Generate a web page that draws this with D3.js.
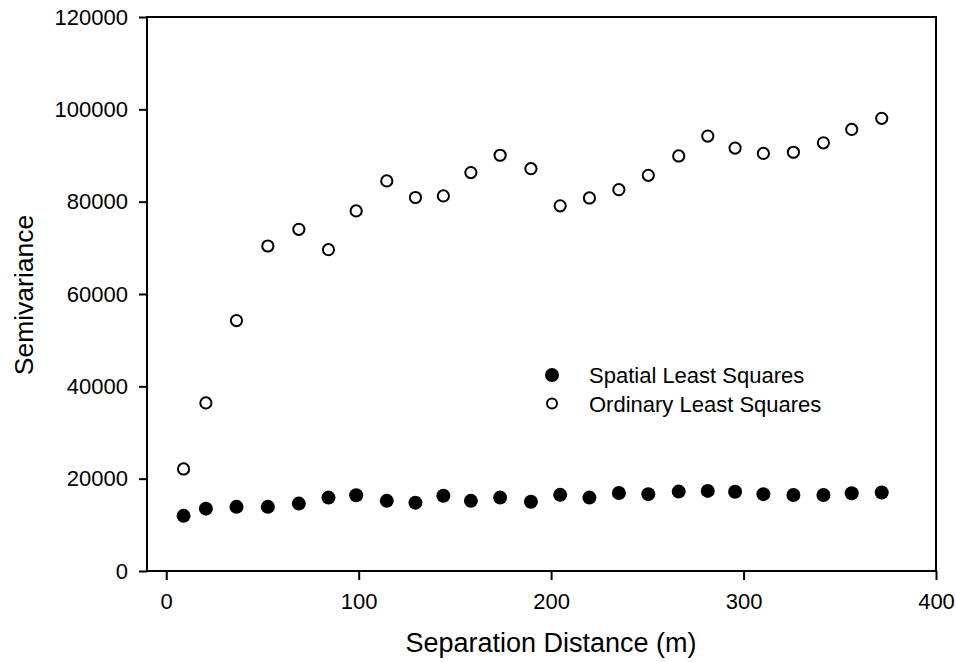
<!DOCTYPE html>
<html>
<head>
<meta charset="utf-8">
<script src="https://cdn.jsdelivr.net/npm/d3@7"></script>
<style>
  body { margin: 0; background: #fff; }
  text { font-family: "Liberation Sans", Arial, sans-serif; fill: #000; }
</style>
</head>
<body>
<div id="chart"></div>
<script>
// separation distance (m) for each lag
const distance = [9.0, 20.6, 36.5, 52.8, 68.9, 84.3, 98.7, 114.6, 129.5, 144.0, 158.3, 173.5, 189.5,
  204.7, 219.9, 235.2, 250.5, 266.3, 281.4, 295.6, 310.3, 325.9, 341.5, 356.2, 371.8];
// semivariance, spatial least squares (filled)
const spatial = [11950, 13500, 13900, 13900, 14600, 15900, 16400, 15200, 14800, 16300, 15200, 15900, 15000,
  16500, 15900, 16900, 16650, 17200, 17350, 17150, 16650, 16450, 16450, 16850, 17000];
// semivariance, ordinary least squares (open)
const ordinary = [22100, 36400, 54250, 70400, 74000, 69600, 78000, 84500, 80900, 81250, 86300, 90050, 87150,
  79100, 80800, 82600, 85700, 89900, 94200, 91600, 90450, 90700, 92750, 95650, 98050];
const xTicks = [0, 100, 200, 300, 400];
const yTicks = [0, 20000, 40000, 60000, 80000, 100000, 120000];
const legendItems = ["Spatial Least Squares", "Ordinary Least Squares"];

const width = 956, height = 662;
const mLeft = 147, mRight = 936, mTop = 17, mBottom = 571;

const svg = d3.select("#chart")
  .append("svg")
  .attr("width", width)
  .attr("height", height);

const x = d3.scaleLinear().domain([-10, 400]).range([mLeft, mRight]);
const y = d3.scaleLinear().domain([0, 120000]).range([mBottom, mTop]);

// y axis
const yAxis = svg.append("g")
  .attr("transform", `translate(${mLeft},0)`)
  .call(d3.axisLeft(y).tickValues(yTicks).tickFormat(d3.format("d")).tickSize(8).tickSizeOuter(0).tickPadding(11));
yAxis.select(".domain").remove();
yAxis.selectAll("line").attr("stroke", "#000").attr("stroke-width", 2);
yAxis.selectAll("text").attr("font-size", 22).attr("font-family", "Liberation Sans, Arial, sans-serif");

// x axis
const xAxis = svg.append("g")
  .attr("transform", `translate(0,${mBottom})`)
  .call(d3.axisBottom(x).tickValues(xTicks).tickSize(9).tickSizeOuter(0).tickPadding(13));
xAxis.select(".domain").remove();
xAxis.selectAll("line").attr("stroke", "#000").attr("stroke-width", 2);
xAxis.selectAll("text").attr("font-size", 22).attr("font-family", "Liberation Sans, Arial, sans-serif");

// frame
svg.append("rect")
  .attr("x", mLeft)
  .attr("y", mTop)
  .attr("width", mRight - mLeft)
  .attr("height", mBottom - mTop)
  .attr("fill", "none")
  .attr("stroke", "#000")
  .attr("stroke-width", 2);

// points
const rows = distance.map((d, i) => ({ d: d, s: spatial[i], o: ordinary[i] }));

svg.append("g")
  .selectAll("circle")
  .data(rows)
  .enter()
  .append("circle")
  .attr("cx", (r) => x(r.d))
  .attr("cy", (r) => y(r.s))
  .attr("r", 7)
  .attr("fill", "#000");

svg.append("g")
  .selectAll("circle")
  .data(rows)
  .enter()
  .append("circle")
  .attr("cx", (r) => x(r.d))
  .attr("cy", (r) => y(r.o))
  .attr("r", 5.6)
  .attr("fill", "#fff")
  .attr("stroke", "#000")
  .attr("stroke-width", 2);

// legend
const legend = svg.append("g")
  .selectAll("g")
  .data(legendItems)
  .enter()
  .append("g")
  .attr("transform", (d, i) => `translate(552,${375 + i * 28.5})`);

legend.append("circle")
  .attr("r", (d, i) => (i === 0 ? 7 : 5))
  .attr("fill", (d, i) => (i === 0 ? "#000" : "#fff"))
  .attr("stroke", "#000")
  .attr("stroke-width", (d, i) => (i === 0 ? 0 : 2));

legend.append("text")
  .attr("x", 37)
  .attr("y", 8)
  .attr("font-size", 22)
  .text((d) => d);

// axis titles
svg.append("text")
  .attr("x", 551)
  .attr("y", 652)
  .attr("text-anchor", "middle")
  .attr("font-size", 27)
  .text("Separation Distance (m)");

svg.append("text")
  .attr("transform", "translate(33,295) rotate(-90)")
  .attr("text-anchor", "middle")
  .attr("font-size", 26.5)
  .text("Semivariance");
</script>
</body>
</html>
